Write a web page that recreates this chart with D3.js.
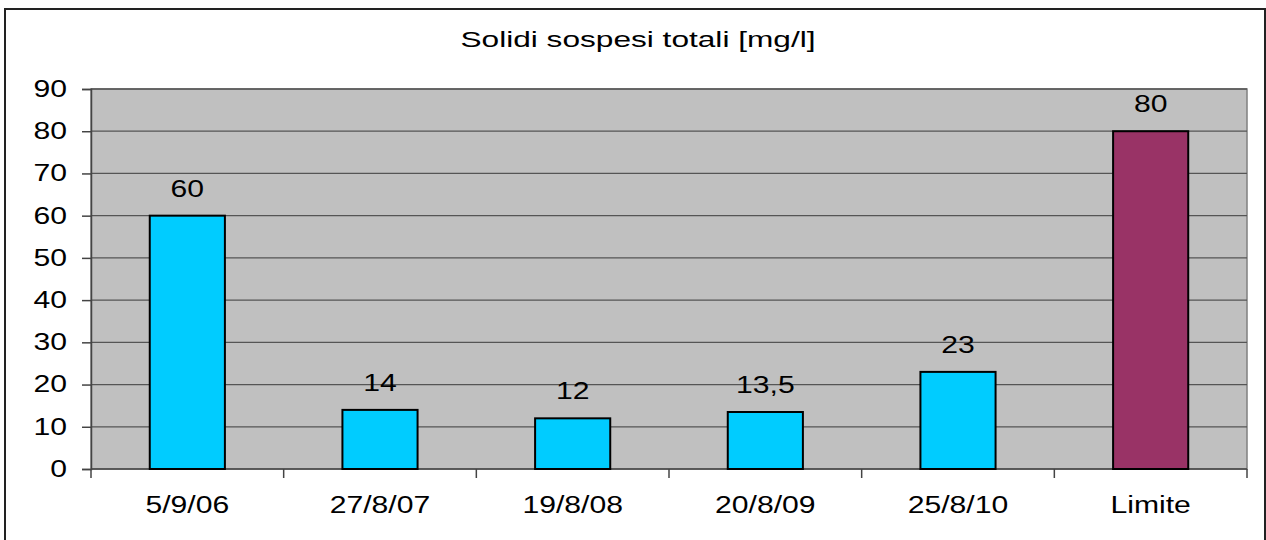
<!DOCTYPE html>
<html><head><meta charset="utf-8">
<script src="https://cdn.jsdelivr.net/npm/d3@7"></script>
<style>body{margin:0;background:#fff}svg{display:block}text{font-family:"Liberation Sans",Arial,sans-serif;fill:#000}</style>
</head><body>
<script>
const categories = ["5/9/06","27/8/07","19/8/08","20/8/09","25/8/10","Limite"];
const values = [60,14,12,13.5,23,80];
const valueLabels = ["60","14","12","13,5","23","80"];
const colors = ["#00CCFF","#00CCFF","#00CCFF","#00CCFF","#00CCFF","#993366"];
const yTicks = [0,10,20,30,40,50,60,70,80,90];
const title = "Solidi sospesi totali [mg/l]";

const W=1266,H=540;
const svg=d3.select("body").append("svg").attr("width",W).attr("height",H);
svg.append("rect").attr("x",5).attr("y",9).attr("width",1260).attr("height",540).attr("fill","#fff").attr("stroke","#222").attr("stroke-width",2);

const L=91,R=1247,T=89,B=469;
const x=d3.scaleBand().domain(categories).range([L,R]).paddingInner(0.61).paddingOuter(0.305);
const y=d3.scaleLinear().domain([0,90]).range([B,T]);

svg.append("rect").attr("x",L).attr("y",T).attr("width",R-L).attr("height",B-T).attr("fill","#C0C0C0").attr("stroke","#808080").attr("stroke-width",1.5);

svg.append("g").selectAll("line").data(yTicks.slice(1)).join("line")
 .attr("x1",L).attr("x2",R).attr("y1",d=>y(d)).attr("y2",d=>y(d)).attr("stroke","#555").attr("stroke-width",1.3);

const yAxis=svg.append("g").attr("transform",`translate(${L},0)`).call(d3.axisLeft(y).tickValues(yTicks).tickSize(9).tickPadding(15));
yAxis.selectAll("text").attr("class","st").style("font-size","23px").attr("font-family","Liberation Sans, Arial, sans-serif");
yAxis.select(".domain").attr("stroke","#444").attr("stroke-width",1.5);
yAxis.selectAll(".tick line").attr("stroke","#444").attr("stroke-width",1.5);

const step=x.step();
const bounds=d3.range(categories.length+1).map(i=>L+i*step);
svg.append("line").attr("x1",L).attr("x2",R).attr("y1",B).attr("y2",B).attr("stroke","#444").attr("stroke-width",1.5);
svg.append("g").selectAll("line").data(bounds).join("line").attr("x1",d=>d).attr("x2",d=>d).attr("y1",B).attr("y2",B+9).attr("stroke","#444").attr("stroke-width",1.5);
svg.append("g").selectAll("text").data(categories).join("text").attr("class","st")
 .attr("x",d=>x(d)+x.bandwidth()/2).attr("y",513).attr("text-anchor","middle").style("font-size","23px").text(d=>d);

svg.append("g").selectAll("rect").data(values).join("rect")
 .attr("x",(d,i)=>x(categories[i])).attr("width",x.bandwidth())
 .attr("y",d=>y(d)).attr("height",d=>B-y(d))
 .attr("fill",(d,i)=>colors[i]).attr("stroke","#000").attr("stroke-width",2);

svg.append("g").selectAll("text").data(values).join("text").attr("class","st")
 .attr("x",(d,i)=>x(categories[i])+x.bandwidth()/2).attr("y",d=>y(d)-19)
 .attr("text-anchor","middle").style("font-size","23px").text((d,i)=>valueLabels[i]);

svg.append("text").attr("class","tt").attr("x",638).attr("y",47).attr("text-anchor","middle").style("font-size","22px").text(title);

// horizontal stretch to match the wide rendering of the reference
svg.selectAll("text.st").each(function(){const w=this.getComputedTextLength();d3.select(this).attr("textLength",w*1.31).attr("lengthAdjust","spacingAndGlyphs");});
svg.selectAll("text.tt").each(function(){d3.select(this).attr("textLength",355).attr("lengthAdjust","spacingAndGlyphs");});
</script>
</body></html>
